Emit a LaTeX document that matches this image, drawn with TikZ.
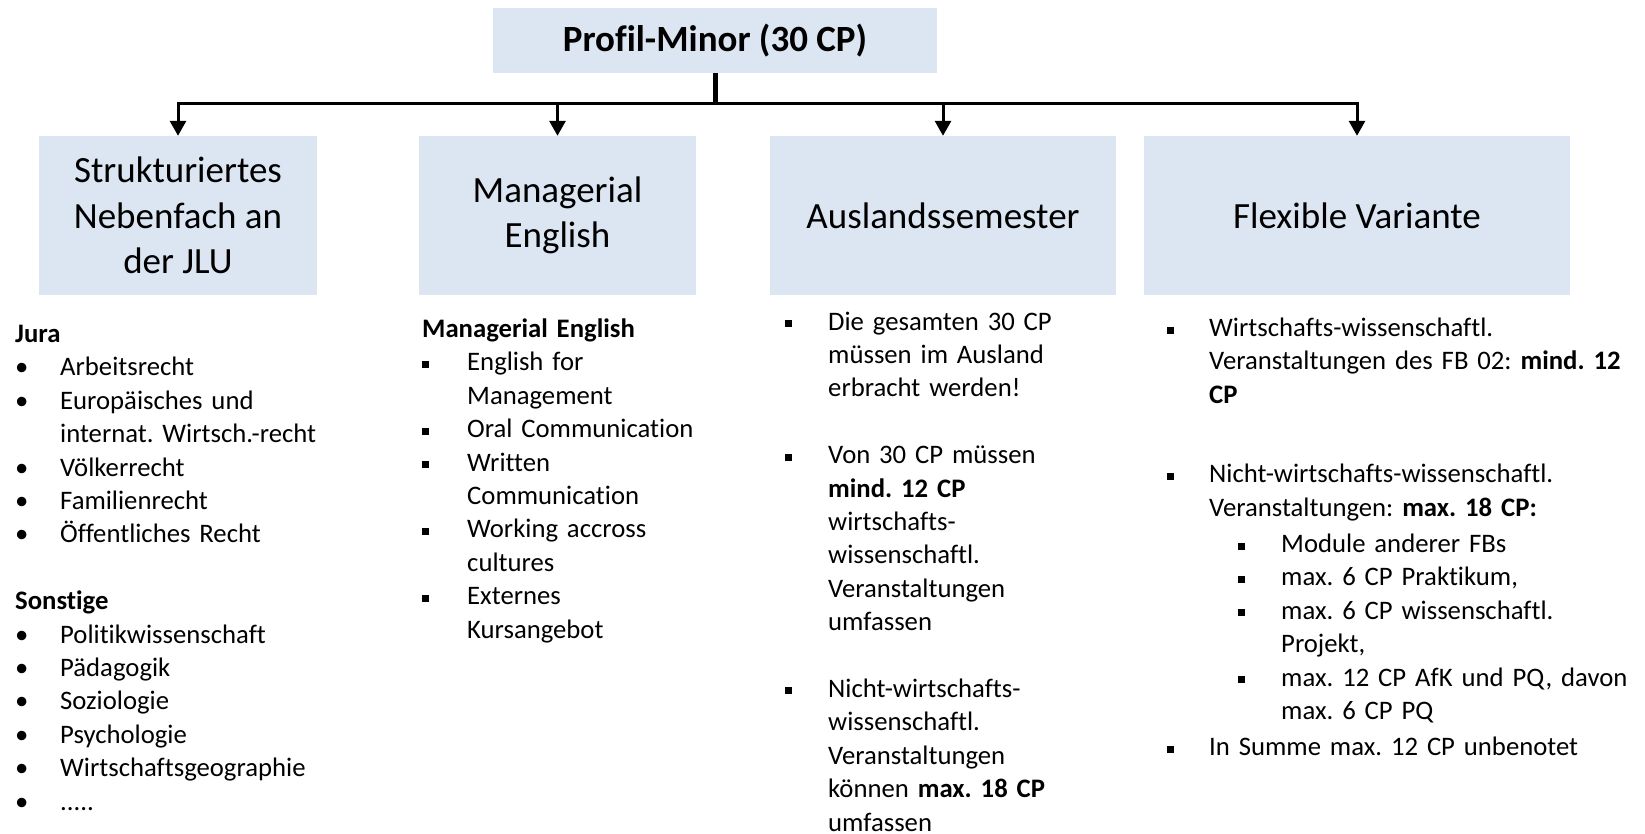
\documentclass[tikz,border=0pt]{standalone}
\usepackage{fontspec}
\setmainfont{Carlito}[Ligatures={NoCommon,NoContextual,NoRequired}]
\usepackage{xcolor}
\usepackage{tikz}
\usetikzlibrary{shapes,arrows,arrows.meta}

\definecolor{boxblue}{HTML}{DCE6F2}
\frenchspacing

% bullets for the lists below the boxes
\newcommand{\quadbullet}{\rule[3pt]{7pt}{7pt}}
\newcommand{\rounditem}{\par\hangindent=45pt\hangafter=1\noindent\makebox[45pt][l]{\textbullet}\ignorespaces}
\newcommand{\firstquad}[1]{\hangindent=#1pt\hangafter=1\makebox[#1pt][l]{\quadbullet}\ignorespaces}
\newcommand{\quaditem}[1]{\par\hangindent=#1pt\hangafter=1\noindent\makebox[#1pt][l]{\quadbullet}\ignorespaces}
\newcommand{\unteritem}{\par\hangindent=114pt\hangafter=1\noindent\hspace*{71pt}\makebox[43pt][l]{\quadbullet}\ignorespaces}

\begin{document}
\begin{tikzpicture}[x=1pt, y=-1pt]
		% Define the styles for the boxes and lists
		\tikzstyle{category}=[rectangle, fill=boxblue, inner sep=0pt, minimum height=159pt, align=center, font=\fontsize{37}{45.5}\selectfont]
		\tikzstyle{liste}=[anchor=north west, inner sep=0pt, align=left, font=\fontsize{26.7}{33.4}\selectfont]

		\useasboundingbox (0,0) rectangle (1645,834);

		% Define nodes
		\node (minor) [rectangle, fill=boxblue, inner sep=0pt, minimum width=444pt, minimum height=65pt, font=\fontsize{37}{45.5}\selectfont\bfseries] at (715,40.5) {Profil-Minor (30 CP)};
		\node (nebenfach) [category, minimum width=278pt] at (178,215.5) {Strukturiertes\\Nebenfach an\\der JLU};
		\node (english) [category, minimum width=277pt] at (557.5,215.5) {Managerial\\English};
		\node (ausland) [category, minimum width=346pt] at (943,215.5) {Auslandssemester};
		\node (flexibel) [category, minimum width=426pt] at (1357,215.5) {Flexible Variante};
		\coordinate (bus) at (715,104);

		\node (list_nebenfach) [liste, text width=330pt] at (15,319) {\strut\textbf{Jura}
			\rounditem Arbeitsrecht
			\rounditem Europäisches und\newline internat. Wirtsch.-recht
			\rounditem Völkerrecht
			\rounditem Familienrecht
			\rounditem Öffentliches Recht
			\par\vspace{33.4pt}
			\noindent\textbf{Sonstige}
			\rounditem Politikwissenschaft
			\rounditem Pädagogik
			\rounditem Soziologie
			\rounditem Psychologie
			\rounditem Wirtschaftsgeographie
			\rounditem .....\par};
		\node (list_english) [liste, text width=280pt] at (422,314) {\strut\textbf{Managerial English}
			\quaditem{45} English for\newline Management
			\quaditem{45} Oral Communication
			\quaditem{45} Written\newline Communication
			\quaditem{45} Working accross\newline cultures
			\quaditem{45} Externes\newline Kursangebot\par};
		\node (list_ausland) [liste, text width=300pt] at (785,306.5) {\firstquad{43}\strut Die gesamten 30 CP\newline müssen im Ausland\newline erbracht werden!
			\par\vspace{33.4pt}
			\quaditem{43} Von 30 CP müssen\newline \textbf{mind. 12 CP}\newline wirtschafts-\newline wissenschaftl.\newline Veranstaltungen\newline umfassen
			\par\vspace{33.4pt}
			\quaditem{43} Nicht-wirtschafts-\newline wissenschaftl.\newline Veranstaltungen\newline können \textbf{max. 18 CP}\newline umfassen\par};
		\node (list_flexibel) [liste, text width=470pt] at (1167,313) {\firstquad{42}\strut Wirtschafts-wissenschaftl.\newline Veranstaltungen des FB 02: \textbf{mind. 12}\newline \textbf{CP}
			\par\vspace{46pt}
			\quaditem{42} Nicht-wirtschafts-wissenschaftl.\newline Veranstaltungen: \textbf{max. 18 CP:}
			\par\vspace{3pt}
			\unteritem Module anderer FBs
			\unteritem max. 6 CP Praktikum,
			\unteritem max. 6 CP wissenschaftl.\newline Projekt,
			\unteritem max. 12 CP AfK und PQ, davon\newline max. 6 CP PQ
			\par\vspace{3pt}
			\quaditem{42} In Summe max. 12 CP unbenotet\par};

		% Define edges
		\draw[line width=5pt] (minor.south) -- (bus);
		\draw[line width=3pt, arrows = {-{Triangle[width=16pt,length=15pt]}}] (bus) -| (nebenfach.north);
		\draw[line width=3pt, arrows = {-{Triangle[width=16pt,length=15pt]}}] (bus) -| (english.north);
		\draw[line width=3pt, arrows = {-{Triangle[width=16pt,length=15pt]}}] (bus) -| (ausland.north);
		\draw[line width=3pt, arrows = {-{Triangle[width=16pt,length=15pt]}}] (bus) -| (flexibel.north);
	\end{tikzpicture}
\end{document}
